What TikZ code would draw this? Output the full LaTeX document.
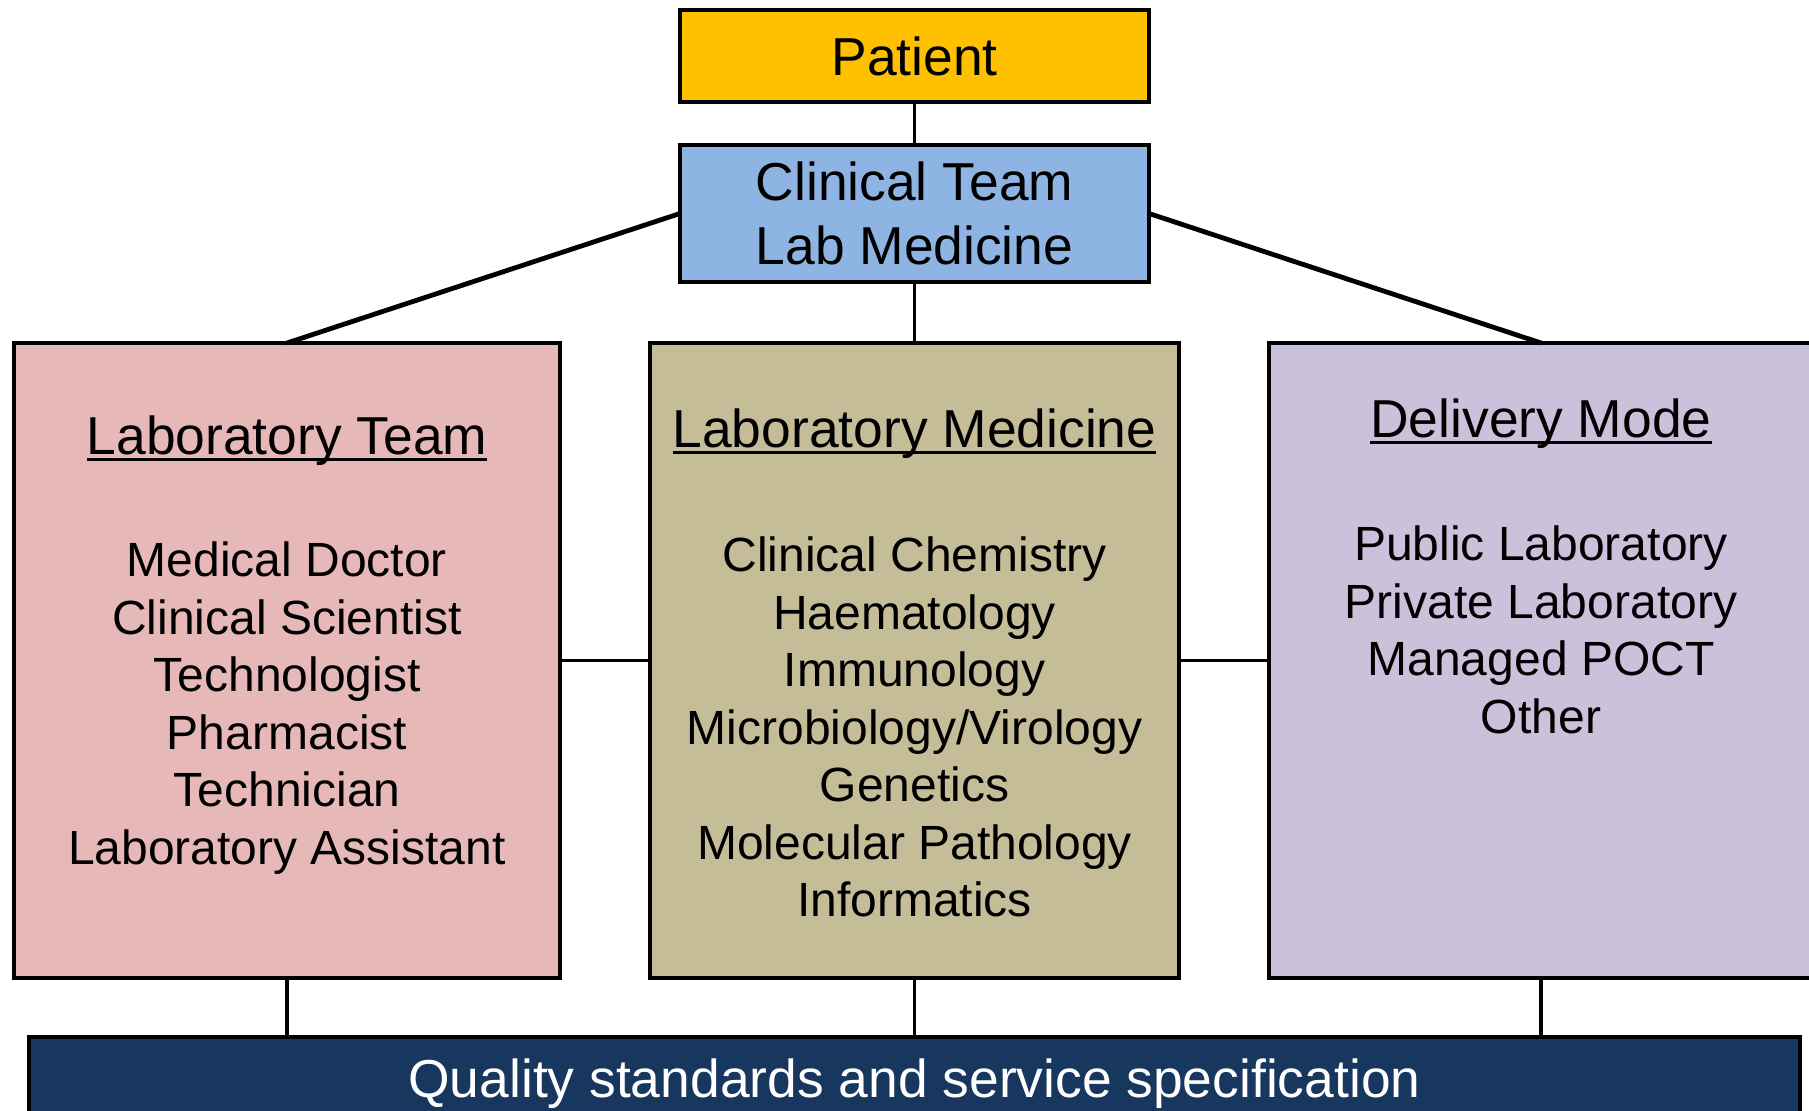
\documentclass[tikz,border=0pt]{standalone}
\usepackage{fontspec}
\setmainfont{Liberation Sans}
\usepackage{tikz}
\usetikzlibrary{calc}

\definecolor{patientcol}{HTML}{FFC000}
\definecolor{clinicalcol}{HTML}{8EB4E3}
\definecolor{teamcol}{HTML}{E6B9B8}
\definecolor{medcol}{HTML}{C4BD97}
\definecolor{modecol}{HTML}{CCC1DA}
\definecolor{qualitycol}{HTML}{17375E}

\newcommand{\headline}[1]{\setbox0\hbox{#1}\rlap{\rule[-3pt]{\wd0}{1.4pt}}\box0}

\begin{document}
\begin{tikzpicture}[x=0.5pt, y=-0.5pt,
            box/.style = {draw, line width=1.75pt, inner sep=0pt, outer sep=0pt},
            link/.style = {line width=1.75pt},
            head/.style = {font=\fontsize{26.7}{31.7}\selectfont, align=center},
            items/.style = {font=\fontsize{24}{28.75}\selectfont, align=center}
            ]
            \useasboundingbox (0,0) rectangle (1809,1111);
            % top of the tree
            \node[box, fill=patientcol, minimum width=234.5pt, minimum height=46pt, head] (patient) at (914.5,56) {Patient};
            \node[box, fill=clinicalcol, minimum width=234.5pt, minimum height=68.5pt, head] (clinical) at (914.5,213.5) {Clinical Team\\Lab Medicine};
            % the three columns
            \node[box, fill=teamcol, minimum width=273pt, minimum height=317.5pt] (labteam) at (287,660.5) {};
            \node[box, fill=medcol, minimum width=264.5pt, minimum height=317.5pt] (labmed) at (914.5,660.5) {};
            \node[box, fill=modecol, minimum width=272pt, minimum height=317.5pt] (delivery) at (1541,660.5) {};
            % bottom bar
            \node[box, fill=qualitycol, minimum width=885.5pt, minimum height=47pt, head, text=white] (quality) at (914.5,1084) {Quality standards and service specification};

            \node[head, anchor=base] (teamhead) at (287,455) {\headline{Laboratory Team}};
            \node[items] (teamlist) at (287,708) {Medical Doctor\\Clinical Scientist\\Technologist\\Pharmacist\\Technician\\Laboratory Assistant};
            \node[head, anchor=base] (medhead) at (914.5,448) {\headline{Laboratory Medicine}};
            \node[items] (medlist) at (914.5,727) {Clinical Chemistry\\Haematology\\Immunology\\Microbiology/Virology\\Genetics\\Molecular Pathology\\Informatics};
            \node[head, anchor=base] (modehead) at (1541,438) {\headline{Delivery Mode}};
            \node[items] (modelist) at (1541,630) {Public Laboratory\\Private Laboratory\\Managed POCT\\Other};

            % connectors
            \draw[link] (patient) -- (clinical);
            \draw[link, line width=2.4pt] (clinical.west) -- (labteam.north);
            \draw[link] (clinical) -- (labmed);
            \draw[link, line width=2.4pt] (clinical.east) -- (delivery.north);
            \draw[link] (labteam) -- (labmed);
            \draw[link] (labmed) -- (delivery);
            \draw[link] (labteam.south) -- (labteam.south |- quality.north);
            \draw[link] (labmed.south) -- (labmed.south |- quality.north);
            \draw[link] (delivery.south) -- (delivery.south |- quality.north);
        \end{tikzpicture}
\end{document}
